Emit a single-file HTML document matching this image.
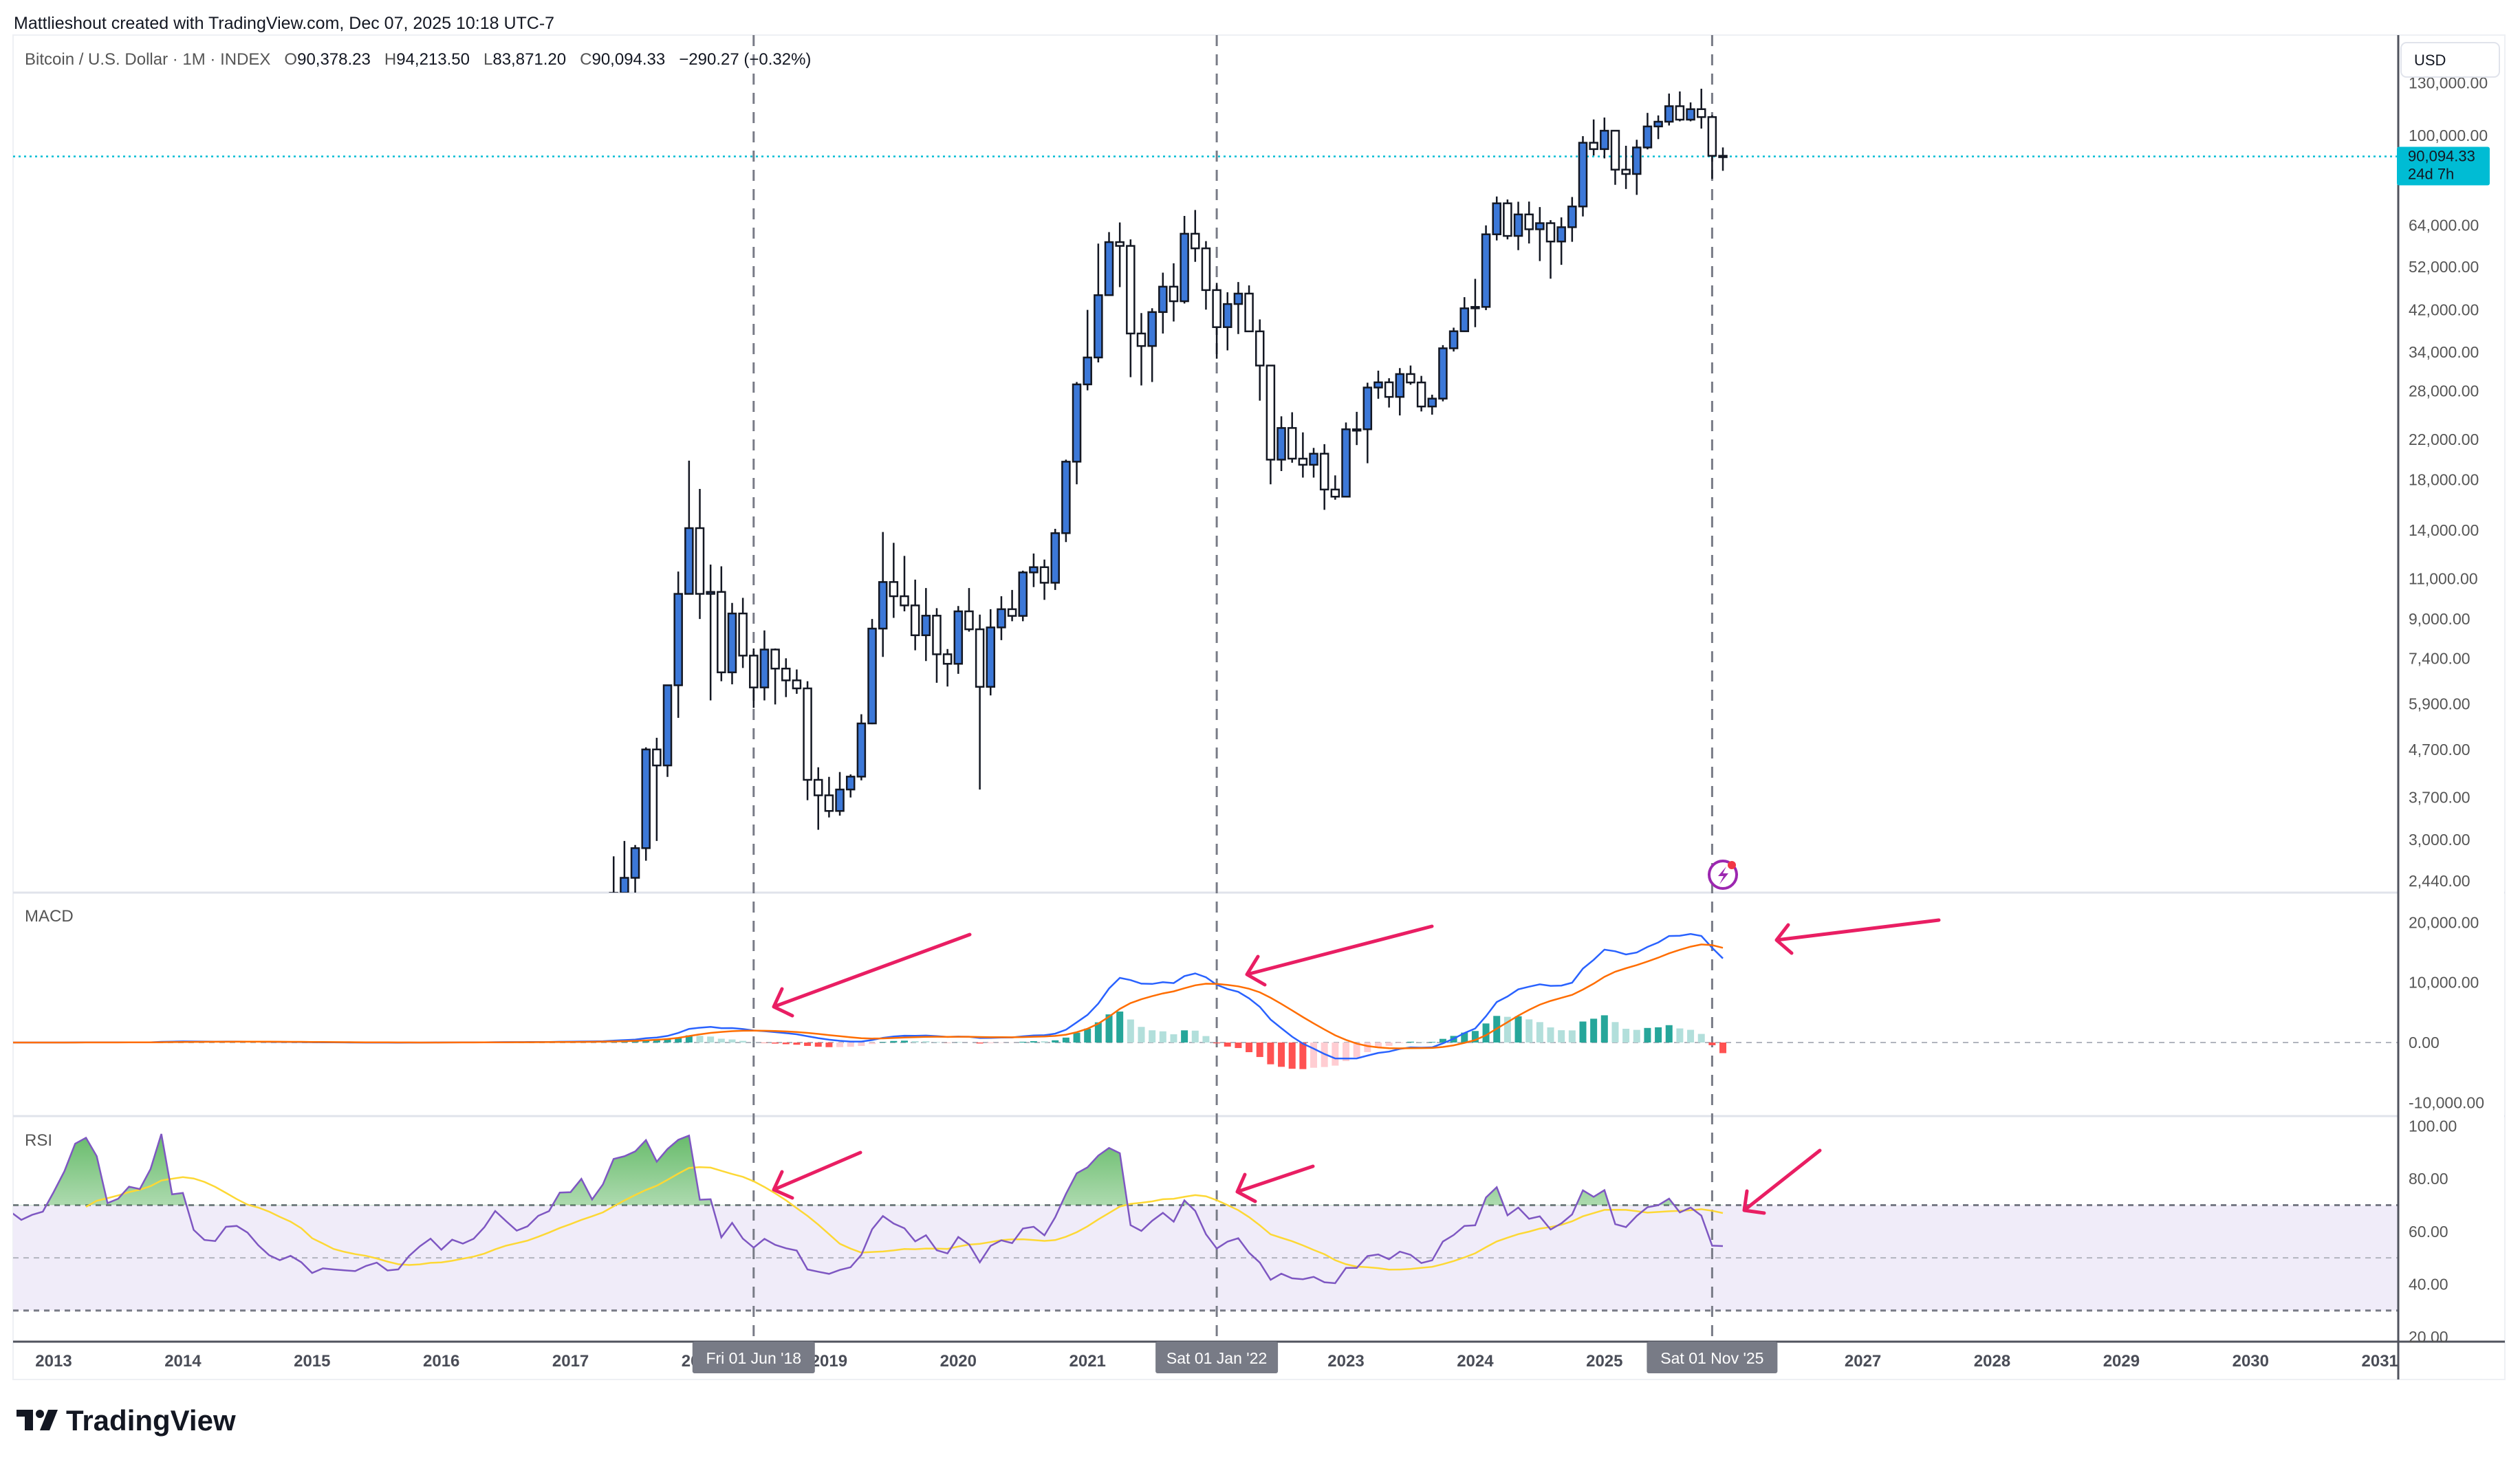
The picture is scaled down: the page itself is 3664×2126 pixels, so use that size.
<!DOCTYPE html>
<html><head><meta charset="utf-8">
<style>
html,body{margin:0;padding:0;background:#fff;}
svg{display:block;font-family:"Liberation Sans",sans-serif;}
</style></head>
<body>
<svg id="c" width="3664" height="2126" viewBox="0 0 3664 2126" xmlns="http://www.w3.org/2000/svg">
<defs>
<clipPath id="pricePane"><rect x="19" y="51" width="3468" height="1247"/></clipPath>
<clipPath id="plotAll"><rect x="19" y="51" width="3468" height="1900"/></clipPath>
<clipPath id="rsiTop"><rect x="19" y="1623" width="3468" height="130"/></clipPath>
<clipPath id="timeClip"><rect x="19" y="1951" width="3468" height="55"/></clipPath>
<clipPath id="axisClip"><rect x="3488" y="113" width="160" height="1900"/></clipPath>
<linearGradient id="obGrad" x1="0" y1="0" x2="0" y2="1">
<stop offset="0" stop-color="#4caf50" stop-opacity="0.85"/>
<stop offset="1" stop-color="#4caf50" stop-opacity="0.03"/>
</linearGradient>
</defs>
<rect x="0" y="0" width="3664" height="2126" fill="#fff"/>
<text x="20" y="42" font-size="25" fill="#131722">Mattlieshout created with TradingView.com, Dec 07, 2025 10:18 UTC-7</text>
<rect x="19" y="51" width="3623" height="1955" fill="none" stroke="#eef0f4" stroke-width="2"/>
<g id="g"></g>
<text x="36" y="94" font-size="24" fill="#555" style="white-space:pre" xml:space="preserve"><tspan fill="#555">Bitcoin / U.S. Dollar · 1M · INDEX   </tspan><tspan fill="#555">O</tspan><tspan fill="#131722">90,378.23   </tspan><tspan fill="#555">H</tspan><tspan fill="#131722">94,213.50   </tspan><tspan fill="#555">L</tspan><tspan fill="#131722">83,871.20   </tspan><tspan fill="#555">C</tspan><tspan fill="#131722">90,094.33   −290.27 (−0.32%)</tspan></text>
<text x="36" y="1340" font-size="24" fill="#555">MACD</text>
<text x="36" y="1666" font-size="24" fill="#555">RSI</text>
<g>
<rect x="24" y="2050" width="24" height="10" fill="#131722"/>
<rect x="36" y="2050" width="12" height="30" fill="#131722"/>
<circle cx="58" cy="2056" r="6" fill="#131722"/>
<polygon points="70,2050 84,2050 72,2080 58,2080" fill="#131722"/>
<text x="96" y="2080" font-size="42" font-weight="bold" fill="#131722">TradingView</text>
</g>
</svg>
<script>
// ---- DATA ----
// Monthly closes Jan 2011 .. Dec 2016 (indicator warm-up)
const earlyClose = [0.52,0.86,0.78,3.5,8.7,16.1,13.4,8.2,5.1,3.25,2.97,4.7,
5.5,4.9,4.9,5.0,5.2,6.7,9.3,10.2,12.4,11.2,12.6,13.5,
20.4,33.4,93,139,129,97,106,135,133,204,1130,805,
830,550,457,447,628,640,586,478,386,338,378,320,
217,254,244,236,230,263,284,230,236,314,377,430,
369,437,416,448,531,673,624,575,609,700,745,964];
// OHLC Jan 2017 .. Dec 2025
const openP = [963,970,1190,1080,1350,2300,2480,2875,4700,4340,6470,10200,
14150,10200,10300,6900,9250,7500,6400,7730,7030,6630,6370,4040,
3740,3460,3850,4105,5350,8580,10820,10080,9630,8300,9150,7550,
7200,9350,8550,6420,8630,9450,9140,11350,11650,10780,13800,19700,
28950,33100,45150,58800,57700,37300,35050,41500,47100,43800,61300,57000,
46300,38500,43200,45500,37700,31800,19900,23300,20000,19400,20500,17150,
16550,23150,23150,28500,29250,27200,30480,29230,25930,26970,34650,37720,
42280,42580,61130,71330,60640,67490,62680,64620,58970,63330,70220,96450,
93430,102400,84350,82550,94200,104600,107100,115700,108200,114000,109600,90378.23];
const highP = [1190,1200,1290,1350,2760,2980,2920,4750,4980,6470,11400,19800,
17200,11800,11700,9750,10000,7770,8500,7770,7400,7000,6600,4300,
4100,4200,4150,5600,9000,13880,13150,12320,10950,10500,9500,7750,
9600,10500,9200,9450,10080,10400,11450,12470,12100,14100,19900,29300,
41950,58350,61800,64850,59600,41300,42300,50500,52900,67000,69000,59100,
47990,45800,48200,47400,40000,31900,24700,25200,22800,21100,21500,18400,
23950,25250,29200,31000,29850,31400,31800,30200,27500,35200,38400,44700,
48970,63900,73800,72700,71900,71950,70000,65600,66500,73600,99650,108300,
109350,102500,95000,97900,111900,110500,123200,124500,117900,126200,110600,94213.5];
const lowP = [750,910,890,1060,1320,2080,1840,2700,2980,4100,5500,10800,
9000,6000,6600,6500,7050,5780,6000,5880,6100,6200,3650,3150,
3350,3380,3700,4030,5330,7450,9050,9350,7700,7300,6550,6430,
6850,8450,3850,6150,8100,8900,8900,10550,9900,10400,13200,17600,
28100,32300,45000,47000,30000,28800,29300,37300,39600,43300,53300,42000,
32900,34300,37200,37600,26700,17600,18800,19600,18200,18200,15500,16300,
16500,21400,19550,26950,25800,24800,28900,25300,24900,26600,34100,37600,
38500,41900,59300,59600,56500,58400,53500,49000,52500,58900,66800,90500,
89200,78200,76600,74400,93300,98200,105100,107300,107300,103500,80600,83871.2];
const closeP = [970,1190,1080,1350,2300,2480,2875,4700,4340,6470,10200,14150,
10200,10300,6900,9250,7500,6400,7730,7030,6630,6370,4040,3740,
3460,3850,4105,5350,8580,10820,10080,9630,8300,9150,7550,7200,
9350,8550,6420,8630,9450,9140,11350,11650,10780,13800,19700,28950,
33100,45150,58800,57700,37300,35050,41500,47100,43800,61300,57000,46300,
38500,43200,45500,37700,31800,19900,23300,20000,19400,20500,17150,16550,
23150,23150,28500,29250,27200,30480,29230,25930,26970,34650,37720,42280,
42580,61130,71330,60640,67490,62680,64620,58970,63330,70220,96450,93430,
102400,84350,82550,94200,104600,107100,115700,108200,114000,109600,90378.23,90094.33];
const priceTicks = [130000,100000,64000,52000,42000,34000,28000,22000,18000,14000,11000,9000,7400,5900,4700,3700,3000,2440];
const macdTicks = [20000,10000,0,-10000];
const rsiTicks = [100,80,60,40,20];
const yearLabels = [2013,2014,2015,2016,2017,2018,2019,2020,2021,2022,2023,2024,2025,2026,2027,2028,2029,2030,2031];
const markerLabels = ["Fri 01 Jun '18","Sat 01 Jan '22","Sat 01 Nov '25"];
const markerMonths = [2018+5/12, 2022, 2025+10/12];
const lastPrice = 90094.33;

// ---- SCALES ----
const NS='http://www.w3.org/2000/svg';
const X0=78, PXY=187.9;
function xYear(yr){return X0+(yr-2013)*PXY;}
function xIdx(i){return xYear(2011+i/12);} // i: month index from Jan 2011
function yPrice(p){return 197+(Math.log(100000)-Math.log(p))*292;}
function yMacd(v){return 1516-v*0.00873;}
function yRsi(r){return 1944-(r-20)*3.83;}
const fmt=(v,d)=>v.toLocaleString('en-US',{minimumFractionDigits:d,maximumFractionDigits:d});
const G=document.getElementById('g');
function mk(tag,attrs,parent){const e=document.createElementNS(NS,tag);for(const k in attrs)e.setAttribute(k,attrs[k]);(parent||G).appendChild(e);return e;}

// ---- INDICATORS ----
const closes=earlyClose.concat(closeP);
function ema(src,len){const a=2/(len+1);const out=[];let v=null;for(let i=0;i<src.length;i++){if(src[i]==null){out.push(null);continue;}if(v==null){v=src[i];}else v=a*src[i]+(1-a)*v;out.push(v);}return out;}
const e12=ema(closes,12),e26=ema(closes,26);
const macd=closes.map((c,i)=>e12[i]-e26[i]);
const sig=ema(macd,9);
const hist=macd.map((m,i)=>m-sig[i]);
const rsi=[];{let ag=0,al=0;for(let i=0;i<closes.length;i++){if(i===0){rsi.push(null);continue;}const ch=closes[i]-closes[i-1];const g=Math.max(ch,0),l=Math.max(-ch,0);if(i<=14){ag+=g/14;al+=l/14;rsi.push(i<14?null:(al===0?100:100-100/(1+ag/al)));}else{ag=(ag*13+g)/14;al=(al*13+l)/14;rsi.push(al===0?100:100-100/(1+ag/al));}}}
const rsiMa=rsi.map((r,i)=>{if(i<27)return null;let s=0;for(let k=i-13;k<=i;k++)s+=rsi[k];return s/14;});

// ---- GRID / PANES ----
mk('line',{x1:19,y1:1298,x2:3642,y2:1298,stroke:'#e0e3eb','stroke-width':3,});
mk('line',{x1:19,y1:1623,x2:3642,y2:1623,stroke:'#e0e3eb','stroke-width':3,});
mk('rect',{x:19,y:yRsi(70),width:3468,height:yRsi(30)-yRsi(70),fill:'#f0ecf9',});
mk('line',{x1:19,y1:yRsi(70),x2:3487,y2:yRsi(70),stroke:'#787b86','stroke-width':3,'stroke-dasharray':'8 7',});
mk('line',{x1:19,y1:yRsi(50),x2:3487,y2:yRsi(50),stroke:'#b2b5be','stroke-width':2,'stroke-dasharray':'8 7',});
mk('line',{x1:19,y1:yRsi(30),x2:3487,y2:yRsi(30),stroke:'#787b86','stroke-width':3,'stroke-dasharray':'8 7',});
mk('line',{x1:19,y1:yMacd(0),x2:3487,y2:yMacd(0),stroke:'#b2b5be','stroke-width':2,'stroke-dasharray':'8 7',});

markerMonths.forEach((m,k)=>{
 const l=mk('line',{x1:xYear(m),y1:51,x2:xYear(m),y2:1951,stroke:'#787b86','stroke-width':3,'stroke-dasharray':'16 12'});
 
 
});

mk('line',{x1:19,y1:yPrice(lastPrice),x2:3487,y2:yPrice(lastPrice),stroke:'#00bcd4','stroke-width':2.5,'stroke-dasharray':'3 5',});

// ---- CANDLES ----
const cg=mk('g',{'clip-path':'url(#pricePane)',});
for(let i=0;i<closeP.length;i++){
 const x=xIdx(72+i);
 const up=closeP[i]>=openP[i];
 const w=mk('line',{x1:x,y1:yPrice(highP[i]),x2:x,y2:yPrice(lowP[i]),stroke:'#131722','stroke-width':2.5},cg);
 
 
 const yt=yPrice(Math.max(openP[i],closeP[i])),yb=yPrice(Math.min(openP[i],closeP[i]));
 const b=mk('rect',{x:x-5.5,y:yt,width:11,height:Math.max(yb-yt,2),fill:up?'#3c78d8':'#ffffff',stroke:'#131722','stroke-width':2.5},cg);
 
 
}

// ---- MACD ----
const mg=mk('g',{'clip-path':'url(#plotAll)',});
for(let i=1;i<hist.length;i++){
 const h=hist[i],p=hist[i-1];
 const col=h>=0?(p<h?'#26a69a':'#b2dfdb'):(p<h?'#ffcdd2':'#ff5252');
 const x=xIdx(i);
 const y0=yMacd(0),y1=yMacd(h);
 const r=mk('rect',{x:x-5,y:Math.min(y0,y1),width:10,height:Math.abs(y1-y0),fill:col},mg);
 
 
}
function poly(arr,yf){return arr.map((v,i)=>v==null?null:xIdx(i).toFixed(1)+','+yf(v).toFixed(1)).filter(s=>s).join(' ');}
const ml=mk('polyline',{points:poly(macd,yMacd),fill:'none',stroke:'#2962ff','stroke-width':2.5},mg);


const sl=mk('polyline',{points:poly(sig,yMacd),fill:'none',stroke:'#ff6d00','stroke-width':2.5},mg);



// ---- RSI ----
const rg=mk('g',{'clip-path':'url(#plotAll)',});
const rpts=poly(rsi,yRsi);
const firstI=rsi.findIndex(v=>v!=null);
const area=mk('polygon',{points:xIdx(firstI)+','+yRsi(70)+' '+rpts+' '+xIdx(rsi.length-1)+','+yRsi(70),fill:'url(#obGrad)','clip-path':'url(#rsiTop)'},rg);


const rma=mk('polyline',{points:poly(rsiMa,yRsi),fill:'none',stroke:'#fdd835','stroke-width':2.5},rg);


const rl=mk('polyline',{points:rpts,fill:'none',stroke:'#7e57c2','stroke-width':2.5},rg);



// ---- AXES ----
mk('rect',{x:3488,y:52,width:153,height:1953,fill:'#fff'});
mk('line',{x1:3487,y1:51,x2:3487,y2:2006,stroke:'#50535e','stroke-width':3,});
mk('line',{x1:19,y1:1951,x2:3642,y2:1951,stroke:'#50535e','stroke-width':3,});
const ag=mk('g',{'clip-path':'url(#axisClip)',});
priceTicks.forEach(p=>{const t=mk('text',{x:3502,y:yPrice(p)+8,'font-size':23,fill:'#555'},ag);t.textContent=fmt(p,2);
 
 });
macdTicks.forEach(v=>{const t=mk('text',{x:3502,y:yMacd(v)+8,'font-size':23,fill:'#555'},ag);t.textContent=fmt(v,2);
 
 });
rsiTicks.forEach(v=>{const t=mk('text',{x:3502,y:yRsi(v)+8,'font-size':23,fill:'#555'},ag);t.textContent=fmt(v,2);
 
 });
const ub=mk('rect',{x:3491,y:62,width:143,height:50,rx:8,fill:'#fff',stroke:'#e0e3eb','stroke-width':2});


const ut=mk('text',{x:3510,y:95,'font-size':22,fill:'#131722'});ut.textContent='USD';


const lb=mk('rect',{x:3485,y:yPrice(lastPrice)-14,width:135,height:56,rx:3,fill:'#00bcd4'});


const lt1=mk('text',{x:3501,y:yPrice(lastPrice)+7,'font-size':22,fill:'#131722'});lt1.textContent=fmt(lastPrice,2);


const lt2=mk('text',{x:3501,y:yPrice(lastPrice)+33,'font-size':22,fill:'#131722'});lt2.textContent='24d 7h';



const tg=mk('g',{'clip-path':'url(#timeClip)',});
yearLabels.forEach(yr=>{const t=mk('text',{x:xYear(yr),y:1987,'font-size':24,'font-weight':'bold',fill:'#4a4d57','text-anchor':'middle'},tg);t.textContent=yr;
 
 });
markerMonths.forEach((m,k)=>{const x=xYear(m);const w=k===2?190:178;
 const r=mk('rect',{x:x-w/2,y:1951,width:w,height:46,rx:3,fill:'#787b86'});
 
 
 const t=mk('text',{x:x,y:1983,'font-size':23,fill:'#fff','text-anchor':'middle'});t.textContent=markerLabels[k];
 
 });

// ---- ANNOTATION ARROWS ----
const arrows=[[1410,1359,1125,1464,1137,1438,1152,1477],[2082,1347,1813,1417,1829,1391,1839,1432],[2819,1338,2583,1367,2600,1345,2605,1386],
[1251,1676,1125,1730,1137,1704,1152,1742],[1909,1696,1799,1733,1810,1708,1825,1747],[2646,1673,2536,1760,2540,1732,2565,1764]];
arrows.forEach(a=>{const p=mk('path',{d:`M${a[0]},${a[1]} L${a[2]},${a[3]} M${a[4]},${a[5]} L${a[2]},${a[3]} L${a[6]},${a[7]}`,fill:'none',stroke:'#e91e63','stroke-width':5,'stroke-linecap':'round','stroke-linejoin':'round'});
 
 });

const ic=mk('g',{});


mk('circle',{cx:2505,cy:1272,r:20,fill:'#fff',stroke:'#9c27b0','stroke-width':4},ic);
mk('path',{d:'M2510,1260 L2498,1274 L2506,1274 L2500,1286 L2513,1270 L2505,1270 Z',fill:'#9c27b0'},ic);
mk('circle',{cx:2518,cy:1258,r:6,fill:'#f23645'},ic);
</script>
</body></html>
